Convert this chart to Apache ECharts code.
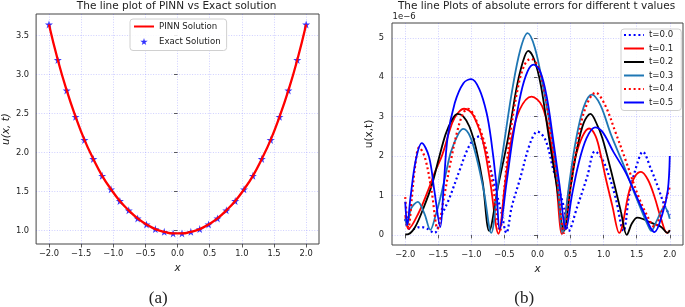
<!DOCTYPE html>
<html>
<head>
<meta charset="utf-8">
<script src="https://cdn.jsdelivr.net/npm/echarts@6/dist/echarts.min.js"></script>
<style>
  html, body { margin: 0; padding: 0; background: #fff; }
  #chart { width: 685px; height: 307px; }
</style>
</head>
<body>
<div id="chart"></div>
<script>
// ---- panel (a): PINN vs exact ----
const xExact = [-2.000, -1.862, -1.724, -1.586, -1.448, -1.310, -1.172, -1.034, -0.897, -0.759,
  -0.621, -0.483, -0.345, -0.207, -0.069, 0.069, 0.207, 0.345, 0.483, 0.621,
  0.759, 0.897, 1.034, 1.172, 1.310, 1.448, 1.586, 1.724, 1.862, 2.000];
const uExact = [3.640, 3.185, 2.794, 2.456, 2.160, 1.916, 1.700, 1.527, 1.377, 1.257,
  1.154, 1.077, 1.017, 0.982, 0.961, 0.961, 0.982, 1.017, 1.077, 1.154,
  1.257, 1.377, 1.527, 1.700, 1.916, 2.160, 2.456, 2.794, 3.185, 3.640];
const uPinn = [3.640, 3.185, 2.794, 2.456, 2.160, 1.916, 1.700, 1.527, 1.377, 1.257,
  1.154, 1.077, 1.017, 0.982, 0.961, 0.961, 0.982, 1.017, 1.077, 1.154,
  1.257, 1.377, 1.527, 1.700, 1.916, 2.160, 2.456, 2.794, 3.185, 3.640];
const xTicksA = [-2, -1.5, -1, -0.5, 0, 0.5, 1, 1.5, 2];
const yTicksA = [1, 1.5, 2, 2.5, 3, 3.5];

// ---- panel (b): absolute errors (x1e-6) ----
const err00 = [[-2.0,0.40],[-1.96,0.18],[-1.88,0.15],[-1.78,0.2],[-1.68,0.17],[-1.56,0.05],[-1.45,0.5],[-1.34,0.9],[-1.18,1.63],[-1.05,2.2],[-0.95,2.45],[-0.88,2.5],[-0.77,2.05],[-0.62,1.06],[-0.55,0.6],[-0.47,0.05],[-0.39,0.71],[-0.27,1.39],[-0.11,2.33],[0.0,2.62],[0.12,2.41],[0.24,1.65],[0.4,0.7],[0.47,0.1],[0.6,0.71],[0.75,1.47],[0.87,2.12],[0.97,1.95],[1.06,1.6],[1.18,0.95],[1.3,0.1],[1.39,1.05],[1.51,1.82],[1.59,2.11],[1.72,1.65],[1.82,1.22],[1.92,0.75],[2.0,0.5]];
const err01 = [[-2.0,0.5],[-1.95,0.15],[-1.8,0.55],[-1.65,1.15],[-1.55,1.6],[-1.44,2.03],[-1.29,2.84],[-1.2,3.1],[-1.11,3.2],[-1.03,3.15],[-0.96,3.0],[-0.83,2.41],[-0.72,1.4],[-0.59,0.03],[-0.49,1.3],[-0.39,2.46],[-0.27,3.18],[-0.09,3.51],[0.07,3.27],[0.19,2.46],[0.28,1.4],[0.37,0.02],[0.47,1.1],[0.57,1.95],[0.68,2.5],[0.78,2.7],[0.88,2.5],[0.96,2.0],[1.03,1.45],[1.13,0.75],[1.235,0.05],[1.39,1.13],[1.48,1.5],[1.565,1.6],[1.67,1.4],[1.77,0.96],[1.87,0.4],[1.96,0.05],[2.0,0.12]];
const err02 = [[-2.0,0.01],[-1.95,0.02],[-1.85,0.2],[-1.72,0.7],[-1.6,1.25],[-1.49,1.95],[-1.39,2.55],[-1.3,2.9],[-1.21,3.07],[-1.12,3.0],[-1.03,2.75],[-0.93,2.2],[-0.83,1.35],[-0.73,0.1],[-0.6,1.2],[-0.44,2.5],[-0.32,3.7],[-0.22,4.4],[-0.14,4.67],[-0.05,4.45],[0.05,3.8],[0.17,2.5],[0.29,1.25],[0.4,0.1],[0.5,1.2],[0.6,2.2],[0.7,2.85],[0.8,3.07],[0.9,2.8],[0.98,2.46],[1.07,1.9],[1.16,1.3],[1.26,0.6],[1.35,0.0],[1.43,0.3],[1.51,0.44],[1.6,0.4],[1.69,0.33],[1.78,0.27],[1.87,0.2],[1.97,0.05],[2.0,0.12]];
const err03 = [[-2.0,0.41],[-1.97,0.25],[-1.91,0.67],[-1.81,0.84],[-1.71,0.54],[-1.62,0.13],[-1.54,0.5],[-1.46,1.0],[-1.38,1.6],[-1.31,2.1],[-1.2,2.55],[-1.12,2.69],[-1.02,2.5],[-0.92,1.95],[-0.81,1.1],[-0.7,0.05],[-0.6,1.25],[-0.49,2.5],[-0.38,3.7],[-0.26,4.7],[-0.15,5.12],[-0.04,4.75],[0.08,3.8],[0.22,2.46],[0.3,1.4],[0.38,0.05],[0.48,1.3],[0.58,2.4],[0.7,3.25],[0.82,3.56],[0.95,3.3],[1.11,2.55],[1.29,1.82],[1.49,0.96],[1.67,0.24],[1.72,0.1],[1.8,0.35],[1.92,0.71],[2.0,0.41]];
const err04 = [[-2.0,0.96],[-1.95,0.18],[-1.9,0.95],[-1.85,1.75],[-1.79,2.22],[-1.7,1.95],[-1.6,1.1],[-1.51,0.16],[-1.42,0.9],[-1.32,1.8],[-1.21,2.65],[-1.12,3.1],[-1.05,3.2],[-0.93,2.92],[-0.78,2.2],[-0.67,1.2],[-0.57,0.1],[-0.5,1.2],[-0.42,2.46],[-0.3,3.7],[-0.2,4.3],[-0.1,4.47],[0.0,4.3],[0.1,3.7],[0.2,2.6],[0.3,1.4],[0.4,0.05],[0.5,1.2],[0.6,2.3],[0.72,3.2],[0.88,3.61],[1.02,3.3],[1.18,2.6],[1.34,1.86],[1.52,1.0],[1.67,0.45],[1.77,0.2],[1.87,0.55],[1.97,1.05],[2.0,1.22]];
const err05 = [[-2.0,0.84],[-1.97,0.25],[-1.92,0.96],[-1.84,1.9],[-1.75,2.33],[-1.64,1.98],[-1.56,1.13],[-1.47,0.2],[-1.42,1.2],[-1.36,2.46],[-1.25,3.35],[-1.12,3.85],[-1.0,3.95],[-0.88,3.7],[-0.77,3.1],[-0.7,2.4],[-0.63,1.4],[-0.57,0.15],[-0.47,1.3],[-0.37,2.5],[-0.25,3.6],[-0.15,4.15],[-0.06,4.32],[0.04,4.15],[0.14,3.5],[0.23,2.5],[0.33,1.3],[0.43,0.15],[0.52,1.0],[0.62,1.8],[0.74,2.45],[0.87,2.73],[0.98,2.62],[1.15,2.1],[1.34,1.56],[1.59,0.63],[1.77,0.07],[1.89,0.54],[1.97,1.13],[2.0,2.0]];
const tNames = ['t=0.0', 't=0.1', 't=0.2', 't=0.3', 't=0.4', 't=0.5'];
const xTicksB = [-2, -1.5, -1, -0.5, 0, 0.5, 1, 1.5, 2];
const yTicksB = [0, 1, 2, 3, 4, 5];

const FONT = 'DejaVu Sans';
const minus = s => String(s).replace('-', '\u2212');
const starPath = 'path://M50,0 L61,35 L98,35 L68,57 L79,91 L50,70 L21,91 L32,57 L2,35 L39,35 Z';

const gridLine = { show: true, lineStyle: { color: 'rgba(60,60,255,0.3)', width: 0.8, type: [1, 1.6] } };
const tick = { show: true, inside: false, length: 3.5, lineStyle: { color: '#333', width: 0.8 } };
const lbl = { color: '#222', fontSize: 8.3, fontFamily: FONT };
const noSymbol = { opacity: 0 };

function xAxisFor(gi, ticks) {
  return {
    type: 'value', gridIndex: gi, min: -2.2, max: 2.2,
    name: 'x', nameLocation: 'middle', nameGap: 16,
    nameTextStyle: { fontStyle: 'italic', fontSize: 10.5, color: '#222', fontFamily: FONT },
    axisLine: { show: false },
    axisTick: Object.assign({ customValues: ticks }, tick),
    axisLabel: Object.assign({ customValues: ticks, margin: 6, formatter: v => minus(v.toFixed(1)) }, lbl),
    splitLine: gridLine
  };
}

const lineSeries = (name, data, color, dotted) => ({
  type: 'line', name: name, xAxisIndex: 1, yAxisIndex: 1, data: data,
  symbol: 'none', smooth: 0.35,
  lineStyle: dotted
    ? { color: color, width: 2.2, type: [2, 2.8], cap: 'butt' }
    : { color: color, width: 1.8 },
  itemStyle: { color: color },
  silent: true
});

const chart = echarts.init(document.getElementById('chart'));
chart.setOption({
  animation: false,
  backgroundColor: '#fff',
  grid: [
    { left: 36, top: 14, width: 283, height: 230, show: true, borderColor: '#444', borderWidth: 1 },
    { left: 392, top: 23, width: 291, height: 222, show: true, borderColor: '#444', borderWidth: 1 }
  ],
  xAxis: [xAxisFor(0, xTicksA), xAxisFor(1, xTicksB)],
  yAxis: [
    {
      type: 'value', gridIndex: 0, min: 0.826, max: 3.774,
      name: 'u(x, t)', nameLocation: 'middle', nameGap: 22,
      nameTextStyle: { fontStyle: 'italic', fontSize: 10.5, color: '#222', fontFamily: FONT },
      axisLine: { show: false },
      axisTick: Object.assign({ customValues: yTicksA }, tick),
      axisLabel: Object.assign({ customValues: yTicksA, margin: 7, formatter: v => v.toFixed(1) }, lbl),
      splitLine: gridLine
    },
    {
      type: 'value', gridIndex: 1, min: -0.256, max: 5.376,
      name: 'u(x,t)', nameLocation: 'middle', nameGap: 7,
      nameTextStyle: { fontSize: 10.5, color: '#222', fontFamily: FONT },
      axisLine: { show: false },
      axisTick: Object.assign({ customValues: yTicksB }, tick),
      axisLabel: Object.assign({ customValues: yTicksB, margin: 8, formatter: v => v.toFixed(0) }, lbl),
      splitLine: gridLine
    }
  ],
  legend: [
    {
      orient: 'vertical', left: 130, top: 19,
      data: [{ name: 'PINN Solution', itemStyle: noSymbol }, { name: 'Exact Solution' }],
      itemWidth: 20, itemHeight: 7, itemGap: 5,
      padding: [2.5, 6, 4, 3],
      borderColor: '#d0d0d0', borderWidth: 1, borderRadius: 3,
      backgroundColor: 'rgba(255,255,255,0.85)',
      textStyle: { fontSize: 8.6, color: '#222', fontFamily: FONT, lineHeight: 10 },
      selectedMode: false
    },
    {
      orient: 'vertical', left: 621, top: 29,
      data: tNames.map(n => ({ name: n, itemStyle: noSymbol })),
      itemWidth: 20, itemHeight: 10, itemGap: 3.5,
      padding: [1, 8, 3, 2],
      borderColor: '#d0d0d0', borderWidth: 1, borderRadius: 3,
      backgroundColor: 'rgba(255,255,255,0.85)',
      textStyle: { fontSize: 8.6, color: '#222', fontFamily: FONT, lineHeight: 10 },
      selectedMode: false
    }
  ],
  graphic: [
    { type: 'text', x: 176.7, y: 6, style: { text: 'The line plot of PINN vs Exact solution', font: '10.5px "DejaVu Sans"', fill: '#222', align: 'center', verticalAlign: 'middle' } },
    { type: 'text', x: 536.5, y: 6, style: { text: 'The line Plots of absolute errors for different t values', font: '10.5px "DejaVu Sans"', fill: '#222', align: 'center', verticalAlign: 'middle' } },
    { type: 'text', x: 392.5, y: 17, style: { text: '1e\u22126', font: '8.5px "DejaVu Sans"', fill: '#222', align: 'left', verticalAlign: 'middle' } },
    { type: 'text', x: 158.3, y: 298.5, style: { text: '(a)', font: '17px "Liberation Serif"', fill: '#222', align: 'center', verticalAlign: 'middle' } },
    { type: 'text', x: 524.2, y: 298.5, style: { text: '(b)', font: '17px "Liberation Serif"', fill: '#222', align: 'center', verticalAlign: 'middle' } }
  ],
  series: [
    {
      type: 'line', name: 'PINN Solution', xAxisIndex: 0, yAxisIndex: 0,
      data: xExact.map((x, i) => [x, uPinn[i]]),
      symbol: 'none', smooth: true,
      lineStyle: { color: '#ff0000', width: 2.3 }, itemStyle: { color: '#ff0000' }, silent: true
    },
    {
      type: 'scatter', name: 'Exact Solution', xAxisIndex: 0, yAxisIndex: 0,
      data: xExact.map((x, i) => [x, uExact[i]]),
      symbol: starPath, symbolSize: 8,
      itemStyle: { color: '#0000ff' }, silent: true
    },
    lineSeries(tNames[0], err00, '#0000ff', true),
    lineSeries(tNames[1], err01, '#ff0000', false),
    lineSeries(tNames[2], err02, '#000000', false),
    lineSeries(tNames[3], err03, '#1f77b4', false),
    lineSeries(tNames[4], err04, '#ff0000', true),
    lineSeries(tNames[5], err05, '#0000ff', false)
  ]
});
</script>
</body>
</html>
